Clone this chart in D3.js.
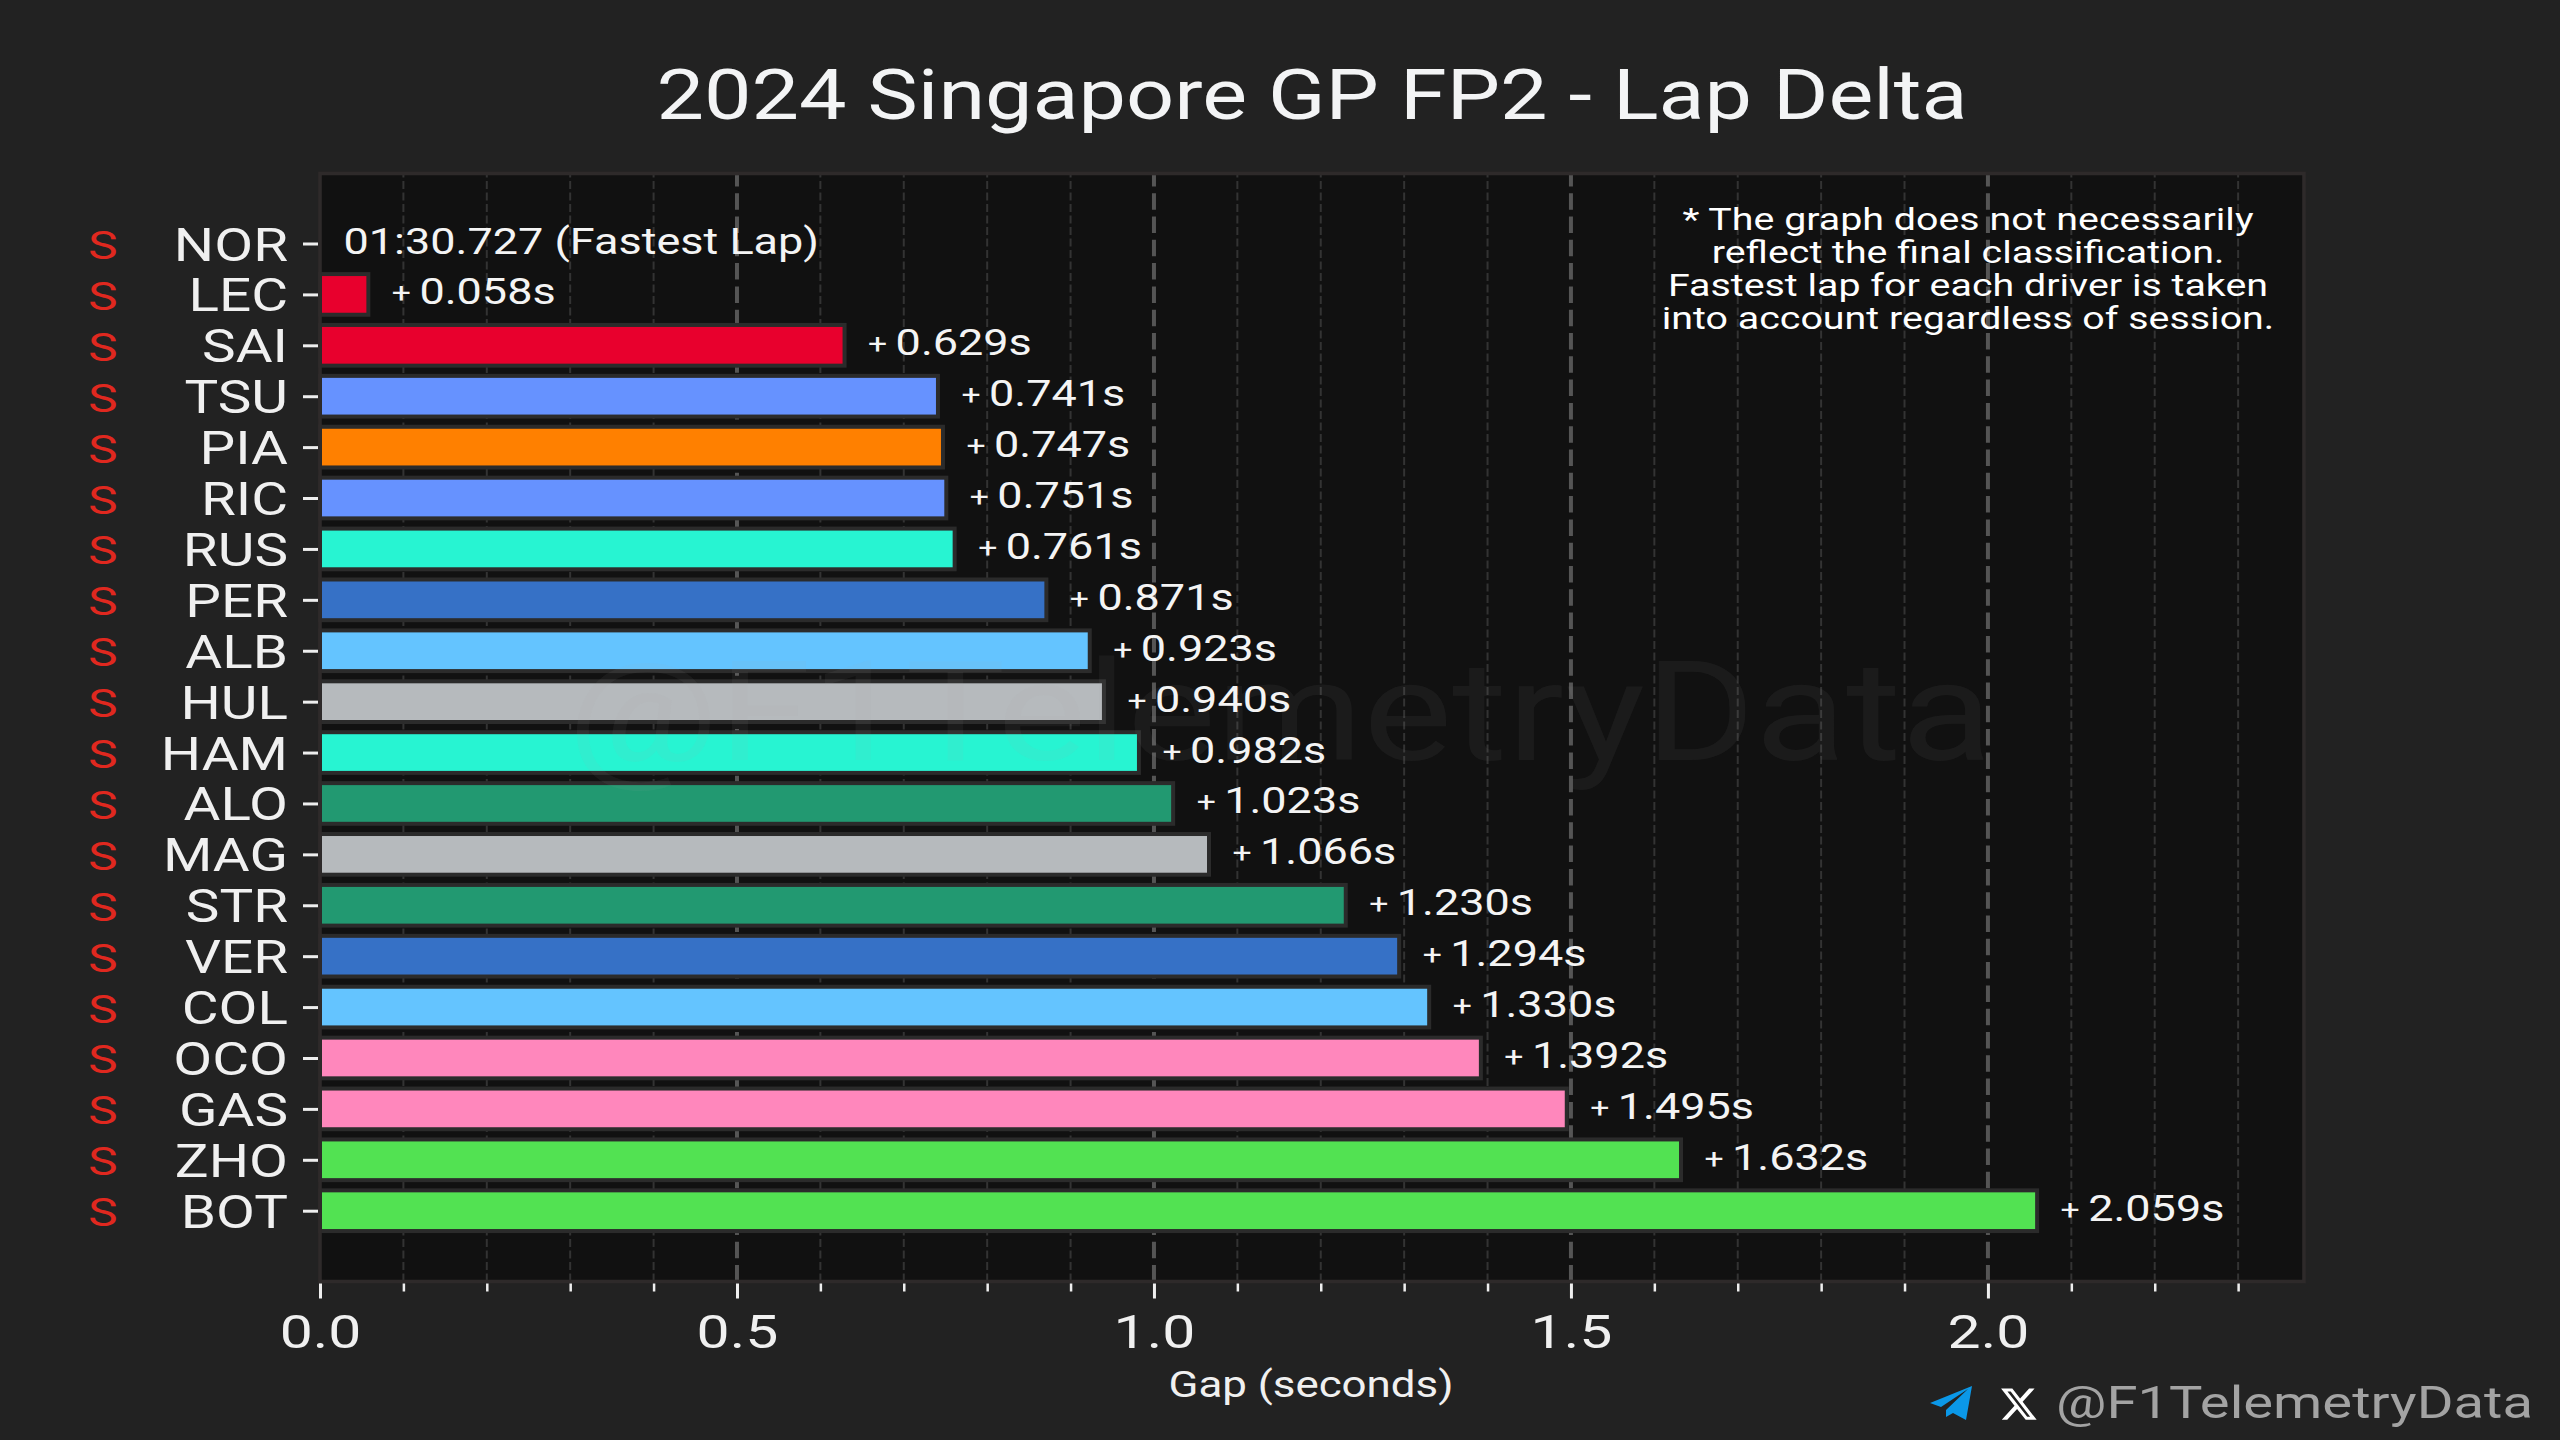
<!DOCTYPE html>
<html>
<head>
<meta charset="utf-8">
<title>2024 Singapore GP FP2 - Lap Delta</title>
<script src="https://cdn.jsdelivr.net/npm/d3@7"></script>
<style>
  html, body { margin: 0; background: #222222; }
  svg { display: block; }
  text { font-family: Roboto, "Liberation Sans", sans-serif; }
</style>
</head>
<body>
<svg id="chart" width="2560" height="1440"></svg>
<script>
// ── data ───────────────────────────────────────────────────
const DRIVERS = ["NOR","LEC","SAI","TSU","PIA","RIC","RUS","PER","ALB","HUL",
                 "HAM","ALO","MAG","STR","VER","COL","OCO","GAS","ZHO","BOT"];
const GAPS = [0, 0.058, 0.629, 0.741, 0.747, 0.751, 0.761, 0.871, 0.923, 0.940,
              0.982, 1.023, 1.066, 1.230, 1.294, 1.330, 1.392, 1.495, 1.632, 2.059];
const COLORS = ["#FF8000","#E8002D","#E8002D","#6692FF","#FF8000","#6692FF","#27F4D2","#3671C6","#64C4FF","#B6BABD",
                "#27F4D2","#229971","#B6BABD","#229971","#3671C6","#64C4FF","#FF87BC","#FF87BC","#52E252","#52E252"];
const COMPOUNDS = DRIVERS.map(() => "S");
const MAJOR_TICKS = [0, 0.5, 1.0, 1.5, 2.0];
const MINOR_TICKS = [0.1,0.2,0.3,0.4,0.6,0.7,0.8,0.9,1.1,1.2,1.3,1.4,1.6,1.7,1.8,1.9,2.1,2.2,2.3];
const FASTEST_LAP = "01:30.727 (Fastest Lap)";
const NOTE_LINES = [
  "* The graph does not necessarily",
  "reflect the final classification.",
  "Fastest lap for each driver is taken",
  "into account regardless of session."
];
const X_MAX = 2.379;

// ── layout ─────────────────────────────────────────────────
const plot = { left: 320, right: 2304, top: 173.5, bottom: 1281.5 };
const x = d3.scaleLinear().domain([0, X_MAX]).range([plot.left, plot.right]);
const y = d3.scalePoint().domain(DRIVERS).range([243.5, 1210.7]);
const BAR_H = 40.7;

const svg = d3.select("#chart");

// the original font is wider than anything installed, so stretch the glyphs
function stretch(sel, k) {
  sel.each(function () {
    const len = this.getComputedTextLength();
    d3.select(this).attr("textLength", len * k).attr("lengthAdjust", "spacingAndGlyphs");
  });
}

svg.append("rect").attr("width", 2560).attr("height", 1440).attr("fill", "#222222");
svg.append("rect")
  .attr("x", plot.left).attr("y", plot.top)
  .attr("width", plot.right - plot.left).attr("height", plot.bottom - plot.top)
  .attr("fill", "#111111");

// ── grid ───────────────────────────────────────────────────
svg.append("g").selectAll("line").data(MINOR_TICKS).join("line")
  .attr("x1", d => x(d)).attr("x2", d => x(d))
  .attr("y1", plot.bottom).attr("y2", plot.top)
  .attr("stroke", "#333333").attr("stroke-width", 2).attr("stroke-dasharray", "8 3.5");

svg.append("g").selectAll("line").data(MAJOR_TICKS.slice(1)).join("line")
  .attr("x1", d => x(d)).attr("x2", d => x(d))
  .attr("y1", plot.bottom).attr("y2", plot.top)
  .attr("stroke", "#555555").attr("stroke-width", 4).attr("stroke-dasharray", "16.5 6.8");

// ── bars ───────────────────────────────────────────────────
svg.append("g").selectAll("rect").data(DRIVERS.slice(1)).join("rect")
  .attr("x", x(0))
  .attr("y", d => y(d) - BAR_H / 2)
  .attr("width", (d, i) => x(GAPS[i + 1]) - x(0))
  .attr("height", BAR_H)
  .attr("fill", (d, i) => COLORS[i + 1])
  .attr("stroke", "#2b2b2b").attr("stroke-width", 4);

// watermark
svg.append("text")
  .attr("x", 1280).attr("y", 760).attr("text-anchor", "middle")
  .attr("font-size", 140).attr("fill", "#b0b0b0").attr("fill-opacity", 0.07)
  .attr("textLength", 1425).attr("lengthAdjust", "spacingAndGlyphs")
  .text("@F1TelemetryData");

// ── spines ─────────────────────────────────────────────────
svg.append("rect")
  .attr("x", plot.left).attr("y", plot.top)
  .attr("width", plot.right - plot.left).attr("height", plot.bottom - plot.top)
  .attr("fill", "none").attr("stroke", "#2e2a2a").attr("stroke-width", 3.6);

// ── axes ───────────────────────────────────────────────────
const axisY = plot.bottom + 2;

const minorAxis = svg.append("g")
  .attr("transform", `translate(0,${axisY})`)
  .call(d3.axisBottom(x).tickValues(MINOR_TICKS).tickSize(8).tickFormat(""));
minorAxis.select(".domain").remove();
minorAxis.selectAll("line").attr("stroke", "#eeeeee").attr("stroke-width", 2.5);

const majorAxis = svg.append("g")
  .attr("transform", `translate(0,${axisY})`)
  .call(d3.axisBottom(x).tickValues(MAJOR_TICKS).tickSize(15).tickFormat(d3.format(".1f")));
majorAxis.select(".domain").remove();
majorAxis.selectAll("line").attr("stroke", "#eeeeee").attr("stroke-width", 3);
majorAxis.selectAll("text")
  .attr("y", 64).attr("dy", 0)
  .attr("font-size", 46).attr("fill", "#f0f0f0")
  .call(stretch, 1.28);

const leftAxis = svg.append("g")
  .attr("transform", `translate(318,0)`)
  .call(d3.axisLeft(y).tickSize(15).tickPadding(15));
leftAxis.select(".domain").remove();
leftAxis.selectAll("line").attr("stroke", "#eeeeee").attr("stroke-width", 3);
leftAxis.selectAll("text")
  .attr("dy", 16.5)
  .attr("font-size", 46).attr("fill", "#f0f0f0")
  .call(stretch, 1.23);

// tyre compound letters
svg.append("g").selectAll("text").data(DRIVERS).join("text")
  .attr("x", 103)
  .attr("y", d => y(d) + 15.5)
  .attr("text-anchor", "middle")
  .attr("font-size", 38)
  .attr("fill", "#E0281F")
  .text((d, i) => COMPOUNDS[i])
  .call(stretch, 1.3);

// ── value labels ───────────────────────────────────────────
svg.append("g").selectAll("text").data(DRIVERS).join("text")
  .attr("x", (d, i) => x(GAPS[i]) + 23.5)
  .attr("y", d => y(d) + 10)
  .attr("font-size", 36)
  .attr("fill", "#f4f4f4")
  .each(function (d, i) {
    const t = d3.select(this);
    if (i === 0) { t.text(FASTEST_LAP); return; }
    t.append("tspan").attr("font-size", 27).attr("dy", -2).text("+ ");
    t.append("tspan").attr("dy", 2).text(d3.format(".3f")(GAPS[i]) + "s");
  })
  .call(stretch, 1.25);

// ── note ───────────────────────────────────────────────────
svg.append("g").selectAll("text").data(NOTE_LINES).join("text")
  .attr("x", 1968)
  .attr("y", (d, i) => 230 + i * 32.9)
  .attr("text-anchor", "middle")
  .attr("font-size", 31)
  .attr("fill", "#ffffff")
  .text(d => d)
  .call(stretch, 1.27);

// ── titles ─────────────────────────────────────────────────
svg.append("text")
  .attr("x", 1312).attr("y", 119).attr("text-anchor", "middle")
  .attr("font-size", 70).attr("fill", "#f3f4f5")
  .attr("textLength", 1311).attr("lengthAdjust", "spacingAndGlyphs")
  .text("2024 Singapore GP FP2 - Lap Delta");

svg.append("text")
  .attr("x", 1311).attr("y", 1397).attr("text-anchor", "middle")
  .attr("font-size", 36).attr("fill", "#f0f0f0")
  .attr("textLength", 285).attr("lengthAdjust", "spacingAndGlyphs")
  .text("Gap (seconds)");

// ── footer ─────────────────────────────────────────────────
svg.append("text")
  .attr("x", 2056).attr("y", 1418)
  .attr("font-size", 45).attr("fill", "#a3a3a3")
  .attr("textLength", 477).attr("lengthAdjust", "spacingAndGlyphs")
  .text("@F1TelemetryData");

// telegram plane
svg.append("path")
  .attr("transform", "translate(1930,1386)")
  .attr("d", "M42 0 L0 17 L11 21 L38 3 L16 24 L16 31 L23 27 L36 34 Z")
  .attr("fill", "#0B98E8");

// X logo
svg.append("path")
  .attr("transform", "translate(1999,1385) scale(1.65,1.6)")
  .attr("d", "M18.244 2.25h3.308l-7.227 8.26 8.502 11.24H16.17l-5.214-6.817L4.99 21.75H1.68l7.73-8.835L1.254 2.25H8.08l4.713 6.231zm-1.161 17.52h1.833L7.084 4.126H5.117z")
  .attr("fill", "#ffffff");
</script>
</body>
</html>
